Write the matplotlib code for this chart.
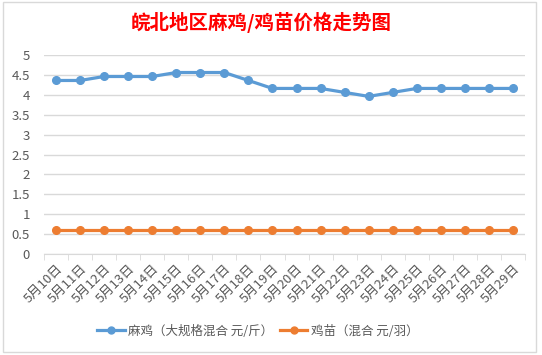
import matplotlib
matplotlib.use("Agg")
import matplotlib.pyplot as plt
from matplotlib.patches import Rectangle
from matplotlib.lines import Line2D

plt.rcParams['font.family'] = ['Noto Sans CJK SC', 'DejaVu Sans']

dates = [f"5月{d}日" for d in range(10, 30)]
maji = [4.36, 4.36, 4.46, 4.46, 4.46, 4.56, 4.56, 4.56, 4.36, 4.16,
        4.16, 4.16, 4.06, 3.96, 4.06, 4.16, 4.16, 4.16, 4.16, 4.16]
jimiao = [0.6] * 20
yticks = [0, 0.5, 1, 1.5, 2, 2.5, 3, 3.5, 4, 4.5, 5]

W, H = 542, 355
fig = plt.figure(figsize=(W / 100, H / 100), dpi=100)
fig.patch.set_facecolor("white")

# chart area border
fig.patches.append(Rectangle((3 / W, 1 - 352 / H), 533 / W, 350 / H,
                             transform=fig.transFigure, fill=False,
                             edgecolor="#d9d9d9", linewidth=1))

ax = fig.add_axes([44 / W, 1 - 254 / H, 481 / W, 199 / H])
x = list(range(len(dates)))
blue = "#5B9BD5"
orange = "#ED7D31"
ax.plot(x, maji, color=blue, lw=2.3, marker="o", ms=5.5, solid_capstyle="round")
ax.plot(x, jimiao, color=orange, lw=2.3, marker="o", ms=5.5, solid_capstyle="round")

ax.set_xlim(-0.5, len(dates) - 0.5)
ax.set_ylim(0, 5)
ax.set_yticks(yticks)
ax.set_yticklabels([f"{v:g}" for v in yticks], color="#595959", fontsize=9.5)
ax.yaxis.grid(True, color="#d9d9d9", linewidth=1)
ax.set_axisbelow(True)
ax.tick_params(axis="y", length=0, pad=10)

ax.set_xticks(x)
ax.set_xticklabels(dates, rotation=45, ha="right", rotation_mode="anchor",
                   color="#595959", fontsize=9.5)
ax.set_xticks([i - 0.5 for i in range(len(dates) + 1)], minor=True)
ax.tick_params(axis="x", which="major", length=0, pad=6)
ax.tick_params(axis="x", which="minor", length=4, color="#d9d9d9")

for s in ["left", "right", "top"]:
    ax.spines[s].set_visible(False)
ax.spines["bottom"].set_color("#d9d9d9")

fig.text(261 / W, 1 - 22 / H, "皖北地区麻鸡/鸡苗价格走势图", color="red",
         fontsize=14, fontweight="bold", ha="center", va="center")

handles = [Line2D([], [], color=blue, lw=2.3, marker="o", ms=5),
           Line2D([], [], color=orange, lw=2.3, marker="o", ms=5)]
fig.legend(handles, ["麻鸡（大规格混合 元/斤）", "鸡苗（混合 元/羽）"],
           loc="center", bbox_to_anchor=(258 / W, 1 - 331 / H), ncol=2,
           frameon=False, fontsize=9, labelcolor="#595959",
           handlelength=2.2, columnspacing=0.5, handletextpad=0.3)

fig.savefig("out.png", dpi=100)
